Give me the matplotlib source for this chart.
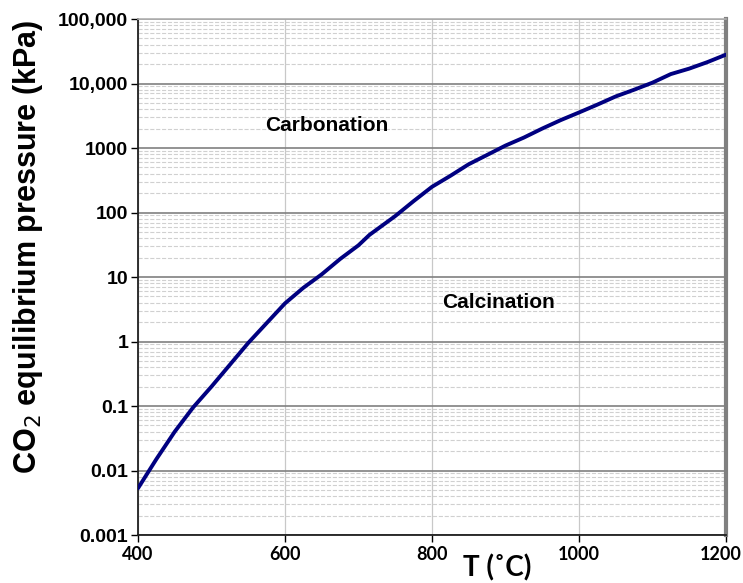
import numpy as np
import matplotlib.pyplot as plt
from matplotlib.ticker import FixedLocator, LogLocator, NullFormatter
from matplotlib.transforms import ScaledTranslation

plt.rcParams['font.family'] = ['Liberation Sans', 'DejaVu Sans']

# temperature (C) and CO2 equilibrium pressure (kPa)
T = [400, 425, 450, 475, 500, 550, 600, 625, 650, 675, 700, 715, 750, 775, 800, 825,
     850, 875, 900, 925, 950, 975, 1000, 1025, 1050, 1075, 1100, 1125, 1150, 1175, 1200]
P = [0.0053, 0.015, 0.04, 0.095, 0.2, 0.95, 3.9, 6.8, 11, 19, 31, 45, 88, 150, 250, 370,
     560, 780, 1090, 1450, 2000, 2700, 3550, 4700, 6300, 8000, 10300, 14000, 17000,
     21500, 28000]

y_ticks = [0.001, 0.01, 0.1, 1, 10, 100, 1000, 10000, 100000]
y_labels = ['0.001', '0.01', '0.1', '1', '10', '100', '1000', '10,000', '100,000']
x_ticks = [400, 600, 800, 1000, 1200]

fig = plt.figure(figsize=(7.43, 5.83), dpi=100)
ax = fig.add_axes([0.1857, 0.0823, 0.7913, 0.8851])

ax.plot(T, P, color='#000080', lw=2.8, solid_capstyle='round', zorder=5)

ax.set_yscale('log')
ax.set_xlim(400, 1200)
ax.set_ylim(0.001, 100000)
ax.yaxis.set_major_locator(FixedLocator(y_ticks))
ax.set_yticklabels(y_labels)
ax.yaxis.set_minor_locator(LogLocator(base=10, subs=np.arange(2, 10)))
ax.yaxis.set_minor_formatter(NullFormatter())
ax.set_xticks(x_ticks)

# grid
ax.grid(axis='y', which='major', color='#808080', lw=1.2)
ax.grid(axis='y', which='minor', color='#d0d0d0', lw=0.8, ls='--')
ax.grid(axis='x', which='major', color='#c8c8c8', lw=0.9)
ax.set_axisbelow(True)

for s in ['left', 'bottom']:
    ax.spines[s].set_color('#202020')
    ax.spines[s].set_linewidth(1.3)
ax.spines['top'].set_color('#b0b0b0')
ax.spines['top'].set_linewidth(1.2)
ax.spines['right'].set_color('#808080')
ax.spines['right'].set_linewidth(3)

ax.tick_params(axis='both', which='major', direction='out', length=5, width=1)
ax.tick_params(axis='y', labelsize=14, pad=2)
ax.tick_params(axis='x', labelsize=13, pad=3)
ax.tick_params(axis='y', which='minor', length=0)
for lab in ax.get_yticklabels():
    lab.set_fontweight('bold')
for lab in ax.get_xticklabels():
    lab.set_fontweight('bold')
    lab.set_family(['Lato', 'DejaVu Sans'])
# nudge the last x label in so it stays inside the figure
last = ax.get_xticklabels()[-1]
last.set_transform(last.get_transform() + ScaledTranslation(-5 / 100, 0, fig.dpi_scale_trans))

ax.set_ylabel('CO$_2$ equilibrium pressure (kPa)', fontsize=22, fontweight='bold')
ax.yaxis.set_label_coords(-0.158, 0.558)
fig.text(497 / 743, 1 - 568 / 583, 'T (˚C)', fontsize=20, fontweight='bold',
         ha='center', va='center', family=['Lato', 'DejaVu Sans'])

ax.text(657, 2230, 'Carbonation', fontsize=15, fontweight='bold', ha='center', va='center')
ax.text(890, 4, 'Calcination', fontsize=15, fontweight='bold', ha='center', va='center')

fig.savefig('out.png', dpi=100)
